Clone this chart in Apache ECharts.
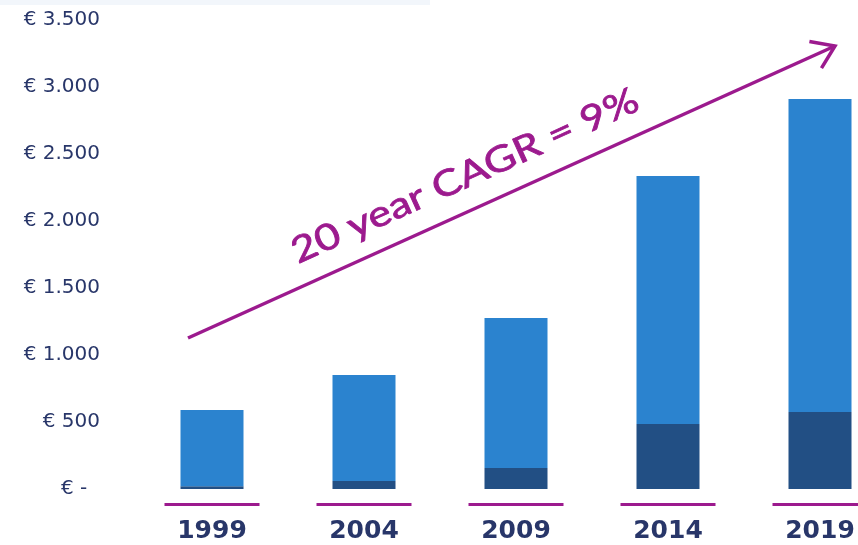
<!DOCTYPE html>
<html>
<head>
<meta charset="utf-8">
<script src="https://cdn.jsdelivr.net/npm/echarts@6/dist/echarts.min.js"></script>
<style>
  html, body { margin: 0; padding: 0; background: #fff; }
  #chart { width: 858px; height: 545px; }
</style>
</head>
<body>
<div id="chart"></div>
<script>
const years = ['1999', '2004', '2009', '2014', '2019']
const baseValues = [20, 60, 157, 485, 575]       // dark bottom segment
const topValues = [570, 791, 1119, 1851, 2335]   // light upper segment
const yMax = 3500
const yStep = 500
const cagrText = '20 year CAGR = 9%'

const navy = '#283669'
const purple = '#9c1a8e'

const fmtEuro = (v) => {
  if (v === 0) return '€ -  '
  if (v >= 1000) return '€ ' + Math.floor(v / 1000) + '.' + String(v % 1000).padStart(3, '0')
  return '€ ' + v
}

const chart = echarts.init(document.getElementById('chart'))

// arrow geometry (annotation only)
const a0 = [188, 338]
const a1 = [835, 46]
const ang = Math.atan2(a1[1] - a0[1], a1[0] - a0[0])
const headLen = 26
const headAng = 0.6
const wing1 = [a1[0] - headLen * Math.cos(ang - headAng), a1[1] - headLen * Math.sin(ang - headAng)]
const wing2 = [a1[0] - headLen * Math.cos(ang + headAng), a1[1] - headLen * Math.sin(ang + headAng)]

const option = {
  animation: false,
  grid: { left: 136, width: 760, top: 20, bottom: 56, outerBoundsMode: 'none' },
  xAxis: {
    type: 'category',
    data: years,
    axisLine: { show: false },
    axisTick: { show: false },
    axisLabel: {
      margin: 14,
      formatter: (v) => '{u|}\n{y|' + v + '}',
      rich: {
        u: { width: 95, height: 3, lineHeight: 3, backgroundColor: purple },
        y: { fontSize: 25, fontWeight: 'bold', color: navy, fontFamily: 'DejaVu Sans', lineHeight: 50 }
      }
    }
  },
  yAxis: {
    type: 'value',
    min: 0,
    max: yMax,
    interval: yStep,
    splitLine: { show: false },
    axisLine: { show: false },
    axisTick: { show: false },
    axisLabel: {
      margin: 36,
      color: navy,
      fontSize: 20,
      fontFamily: 'DejaVu Sans',
      formatter: fmtEuro
    }
  },
  series: [
    {
      name: 'base', type: 'bar', stack: 'total', barWidth: 63,
      itemStyle: { color: '#224f84' },
      data: baseValues
    },
    {
      name: 'top', type: 'bar', stack: 'total', barWidth: 63,
      itemStyle: { color: '#2b83cf' },
      data: topValues
    }
  ],
  graphic: [
    { type: 'rect', shape: { x: 0, y: 0, width: 430, height: 5 }, style: { fill: '#f2f6fb' }, silent: true },
    {
      type: 'line',
      shape: { x1: a0[0], y1: a0[1], x2: a1[0], y2: a1[1] },
      style: { stroke: purple, lineWidth: 3.5 }
    },
    {
      type: 'polyline',
      shape: { points: [wing1, a1, wing2] },
      style: { stroke: purple, lineWidth: 3.5, fill: null }
    },
    {
      type: 'text',
      x: 465, y: 176,
      rotation: -ang,
      scaleX: 1.2,
      style: {
        text: cagrText,
        fill: purple,
        stroke: purple,
        lineWidth: 0.8,
        font: '36px Lato',
        align: 'center',
        verticalAlign: 'middle'
      }
    }
  ]
}
chart.setOption(option)
</script>
</body>
</html>
